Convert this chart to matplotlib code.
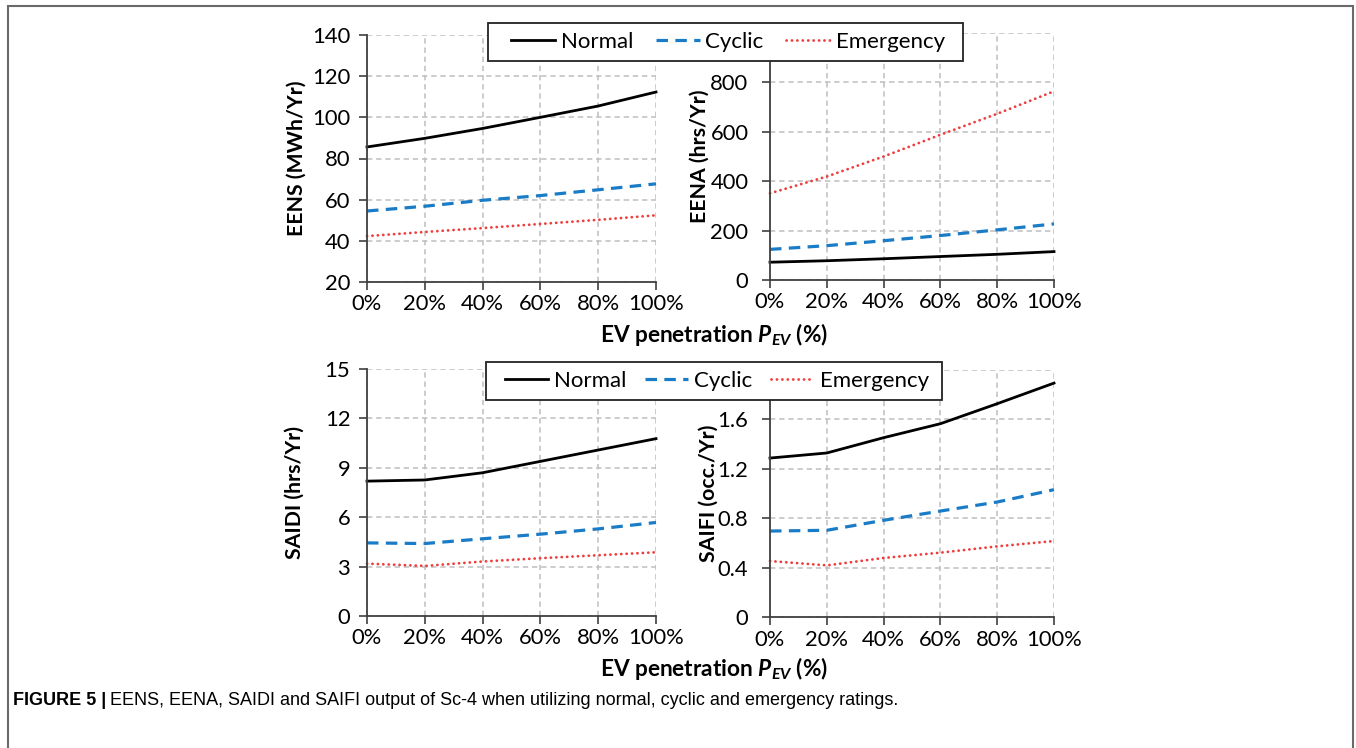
import matplotlib
matplotlib.use("Agg")
import matplotlib.pyplot as plt
from matplotlib.patches import Rectangle

# EV penetration levels (%)
pev = [0, 20, 40, 60, 80, 100]
pev_labels = ["0%", "20%", "40%", "60%", "80%", "100%"]

# values
eens_normal = [85.6, 89.8, 94.6, 100.0, 105.5, 112.3]
eens_cyclic = [54.5, 56.8, 59.7, 62.0, 64.8, 67.7]
eens_emergency = [42.3, 44.3, 46.2, 48.2, 50.2, 52.4]

eena_normal = [72, 78, 86, 95, 104, 115]
eena_cyclic = [124, 139, 159, 180, 203, 227]
eena_emergency = [351, 419, 500, 588, 673, 764]

saidi_normal = [8.19, 8.26, 8.70, 9.39, 10.08, 10.77]
saidi_cyclic = [4.44, 4.40, 4.69, 4.97, 5.29, 5.68]
saidi_emergency = [3.18, 3.04, 3.31, 3.51, 3.69, 3.87]

saifi_normal = [1.287, 1.328, 1.452, 1.565, 1.727, 1.894]
saifi_cyclic = [0.696, 0.702, 0.783, 0.858, 0.931, 1.031]
saifi_emergency = [0.453, 0.418, 0.478, 0.521, 0.572, 0.615]

series_names = ["Normal", "Cyclic", "Emergency"]

W, H = 1356, 748
FONT = "Lato"
plt.rcParams["font.family"] = [FONT, "DejaVu Sans"]
plt.rcParams["mathtext.fontset"] = "custom"
plt.rcParams["mathtext.bfit"] = FONT + ":bold:italic"
plt.rcParams["mathtext.bf"] = FONT + ":bold"
plt.rcParams["mathtext.it"] = FONT + ":italic"
plt.rcParams["mathtext.rm"] = FONT

fig = plt.figure(figsize=(W / 100, H / 100), dpi=100)


def px_axes(x0, x1, ytop, ybot):
    return fig.add_axes([x0 / W, 1 - ybot / H, (x1 - x0) / W, (ybot - ytop) / H])


styles = [
    dict(color="black", lw=2.0, ls="-"),
    dict(color="#1a7cc6", lw=2.3, ls=(0, (3.6, 2.3))),
    dict(color="#f03c3c", lw=2.0, ls=(0, (0.05, 1.9)), dash_capstyle="round"),
]


def style_axes(ax, ylim, yticks, ylabel, label_x, ypad):
    ax.set_xlim(0, 100)
    ax.set_ylim(*ylim)
    ax.set_xticks(pev)
    ax.set_xticklabels(pev_labels)
    ax.set_yticks(yticks)
    ax.set_yticklabels([f"{t:g}" for t in yticks])
    ax.grid(True, color="#bfbfbf", ls=(0, (3.5, 2.5)), lw=1.1)
    ax.set_axisbelow(True)
    for s in ["top", "right"]:
        ax.spines[s].set_visible(False)
    for s in ["left", "bottom"]:
        ax.spines[s].set_color("#404040")
        ax.spines[s].set_linewidth(1.3)
    ax.tick_params(axis="both", direction="out", length=5.5, width=1.2,
                   color="#404040", labelsize=15.8, labelcolor="black")
    ax.tick_params(axis="y", pad=ypad)
    ax.tick_params(axis="x", pad=3.5)
    ax.set_ylabel(ylabel, fontsize=15.3, fontweight="bold")
    ax.yaxis.set_label_coords(label_x, 0.5)


def draw(ax, data):
    for vals, st, name in zip(data, styles, series_names):
        ax.plot(pev, vals, label=name, clip_on=False, **st)


ax1 = px_axes(367, 656, 35, 282)
draw(ax1, [eens_normal, eens_cyclic, eens_emergency])
style_axes(ax1, (20, 140), [20, 40, 60, 80, 100, 120, 140], "EENS (MWh/Yr)", -0.208, 6.5)

ax2 = px_axes(770, 1054, 33, 280)
draw(ax2, [eena_normal, eena_cyclic, eena_emergency])
style_axes(ax2, (0, 1000), [0, 200, 400, 600, 800, 1000], "EENA (hrs/Yr)", -0.211, 10)
ax2.get_yticklabels()[-1].set_visible(False)

ax3 = px_axes(367, 656, 369, 616)
draw(ax3, [saidi_normal, saidi_cyclic, saidi_emergency])
style_axes(ax3, (0, 15), [0, 3, 6, 9, 12, 15], "SAIDI (hrs/Yr)", -0.214, 6.5)

ax4 = px_axes(770, 1054, 370, 617)
draw(ax4, [saifi_normal, saifi_cyclic, saifi_emergency])
style_axes(ax4, (0, 2.0), [0, 0.4, 0.8, 1.2, 1.6, 2.0], "SAIFI (occ./Yr)", -0.18, 10)
ax4.set_yticklabels(["0", "0.4", "0.8", "1.2", "1.6", ""])

xlab = "EV penetration $\\mathbfit{P}_{\\mathbfit{EV}}$ (%)"
fig.text(714 / W, 1 - 334 / H, xlab, ha="center", va="center", fontsize=16.3, fontweight="bold")
fig.text(714 / W, 1 - 669 / H, xlab, ha="center", va="center", fontsize=16.3, fontweight="bold")

# legends: frameless legend inside a drawn box
handles, labels = ax1.get_legend_handles_labels()
legend_boxes = [
    # box x0, x1, ytop, ybot, content centre x, handlelength, columnspacing
    (488, 963, 23, 61, 728, 2.0, 1.0),
    (486, 942, 362, 400, 717, 1.95, 0.85),
]
for bx0, bx1, bt, bb, cx, hl, cs in legend_boxes:
    fig.add_artist(Rectangle((bx0 / W, 1 - bb / H), (bx1 - bx0) / W, (bb - bt) / H,
                             transform=fig.transFigure, facecolor="white",
                             edgecolor="#222222", lw=1.3, zorder=5))
    leg = fig.legend(handles, labels, loc="center",
                     bbox_to_anchor=(cx / W, 1 - (bt + bb) / 2 / H),
                     ncol=3, fontsize=16, frameon=False,
                     handlelength=hl, handletextpad=0.25, columnspacing=cs,
                     borderpad=0.0)
    leg.set_zorder(6)

# outer frame
fig.add_artist(Rectangle((8 / W, -0.02), (1353 - 8) / W, 1.02 - 6 / H,
                         transform=fig.transFigure, fill=False,
                         edgecolor="#6a6a6a", lw=1.5))

# caption
cap_font = ["Liberation Sans Narrow", "Liberation Sans"]
t1 = fig.text(13 / W, 1 - 705 / H, "FIGURE 5 |", family=cap_font, fontsize=13,
              fontweight="bold", ha="left", va="baseline")
ax4.annotate("EENS, EENA, SAIDI and SAIFI output of Sc-4 when utilizing normal, "
             "cyclic and emergency ratings.",
             xy=(1, 0), xycoords=t1, xytext=(3, 0), textcoords="offset points",
             family=cap_font, fontsize=13, ha="left", va="bottom",
             annotation_clip=False)

fig.savefig("out.png", dpi=100)
